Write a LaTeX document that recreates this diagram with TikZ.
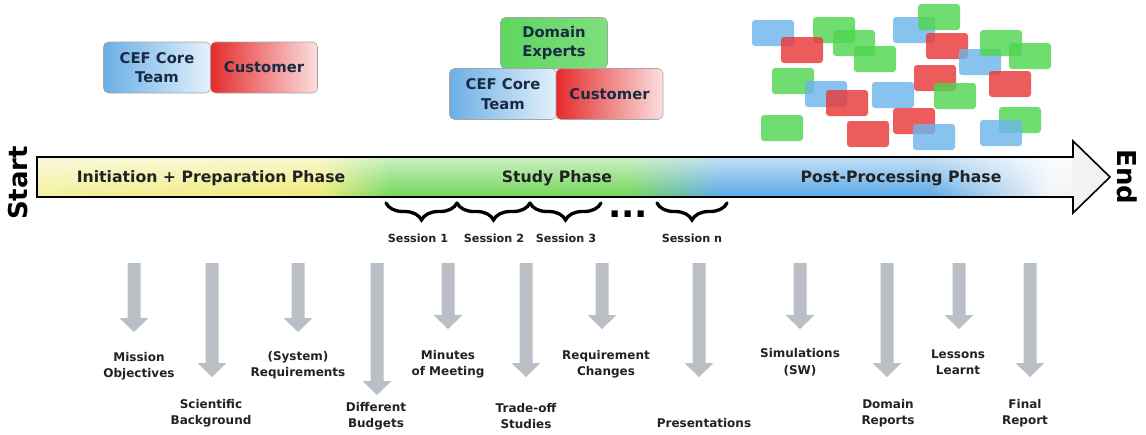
\documentclass[tikz,border=0pt]{standalone}
\usepackage{fontspec}
\setmainfont{DejaVu Sans}
\usetikzlibrary{decorations.pathreplacing,fadings}
\definecolor{cblue}{HTML}{6AAFE6}
\definecolor{cred}{HTML}{E52B2B}
\definecolor{cgreen}{HTML}{5ED65E}
\definecolor{sblue}{HTML}{6DB6EA}
\definecolor{sgreen}{HTML}{4FD64F}
\definecolor{sred}{HTML}{E83838}
\definecolor{agray}{HTML}{B9BFC5}
\definecolor{navy}{HTML}{1B2A44}
\definecolor{lblc}{HTML}{222222}
\definecolor{yelA}{HTML}{F3F0A0}
\definecolor{yelB}{HTML}{EFEC78}
\definecolor{grnA}{HTML}{72D65A}
\definecolor{bluA}{HTML}{5AA8E6}
\definecolor{endW}{HTML}{F3F6F9}
\tikzfading[name=glow, top color=transparent!35, middle color=transparent!80, bottom color=transparent!100]
\tikzset{
  teambox/.style={draw=gray!70, line width=0.6pt, rounded corners=5pt, minimum width=107pt, minimum height=51pt,
    align=center, text=navy, font=\fontsize{14.8}{19.5}\selectfont\bfseries, inner sep=0pt},
  cefbox/.style={teambox, left color=cblue, middle color=cblue!75!white, right color=cblue!18!white},
  custbox/.style={teambox, left color=cred, middle color=cred!95!white, right color=cred!15!white},
  dombox/.style={teambox, left color=cgreen, right color=cgreen!80!white},
  scat/.style={rounded corners=3pt, fill opacity=0.82},
  phase/.style={font=\fontsize{15.7}{18}\selectfont\bfseries, text=lblc},
  endlbl/.style={font=\fontsize{26}{30}\selectfont\bfseries, text=black},
  sess/.style={font=\fontsize{11.2}{12}\selectfont\bfseries, text=lblc},
  lbl/.style={font=\fontsize{12}{16.5}\selectfont\bfseries, text=lblc, align=center},
  bracestyle/.style={decorate, decoration={brace, amplitude=17pt}, line width=3.3pt, line cap=round},
}
\newcommand\garrow[3]{%
  \fill[agray] ({#1-6.5},#2) -- ({#1+6.5},#2) -- ({#1+6.5},{#3-14}) -- ({#1+14.5},{#3-14}) -- (#1,#3)
    -- ({#1-14.5},{#3-14}) -- ({#1-6.5},{#3-14}) -- cycle;}
\begin{document}
\begin{tikzpicture}[x=1pt,y=-1pt]
\useasboundingbox (0,0) rectangle (1146,434);

% ---- team groups
\node[cefbox] (cef1) at (157,67.5) {CEF Core\\Team};
\node[custbox] (cust1) at (264,67.5) {Customer};
\node[dombox] (dom) at (554,43) {Domain\\Experts};
\node[cefbox] (cef2) at (503,94) {CEF Core\\Team};
\node[custbox] (cust2) at (609.5,94) {Customer};

% ---- scattered people
\foreach \x/\y/\c in {752/20/sblue, 813/17/sgreen, 781/37/sred, 833/30/sgreen, 854/46/sgreen,
  893/17/sblue, 918/4/sgreen, 926/33/sred, 959/49/sblue, 980/30/sgreen, 1009/43/sgreen,
  989/71/sred, 914/65/sred, 772/68/sgreen, 805/81/sblue, 826/90/sred, 872/82/sblue,
  934/83/sgreen, 893/108/sred, 913/124/sblue, 847/121/sred, 761/115/sgreen, 999/107/sgreen,
  980/120/sblue}
  \fill[scat, fill=\c] (\x,\y) rectangle ({\x+42},{\y+26});

% ---- main arrow
\begin{scope}
\clip (37,157) -- (1073,157) -- (1073,141) -- (1110,177) -- (1073,213) -- (1073,197) -- (37,197) -- cycle;
\shade[left color=yelA, right color=yelB] (30,130) rectangle (320,220);
\shade[left color=yelB, right color=grnA] (319.5,130) rectangle (390,220);
\fill[grnA] (389.5,130) rectangle (630,220);
\shade[left color=grnA, right color=bluA] (629.5,130) rectangle (720,220);
\fill[bluA] (719.5,130) rectangle (930,220);
\shade[left color=bluA, right color=endW] (929.5,130) rectangle (1050,220);
\shade[left color=endW, right color=gray!12] (1049.5,130) rectangle (1115,220);
\fill[white, path fading=glow] (30,157) rectangle (1073,197);
\end{scope}
\draw[line width=1.6pt, line join=miter] (37,157) -- (1073,157) -- (1073,141) -- (1110,177) -- (1073,213) -- (1073,197) -- (37,197) -- cycle;

\node[phase] (ph1) at (211,178) {Initiation + Preparation Phase};
\node[phase] (ph2) at (557,178) {Study Phase};
\node[phase] (ph3) at (901,178) {Post-Processing Phase};
\node[endlbl, rotate=90] (start) at (18,183) {Start};
\node[endlbl, rotate=-90] (end) at (1127,177) {End};

% ---- sessions
\coordinate (b0) at (386,203);
\coordinate (b1) at (457,203);
\coordinate (b2) at (530,203);
\coordinate (b3) at (601,203);
\coordinate (bn0) at (657,203);
\coordinate (bn1) at (727,203);
\draw[bracestyle] (b1) -- (b0);
\draw[bracestyle] (b2) -- (b1);
\draw[bracestyle] (b3) -- (b2);
\draw[bracestyle] (bn1) -- (bn0);
\node[font=\fontsize{35}{35}\selectfont\bfseries, anchor=base, inner sep=0pt] (dots) at (628,217.5) {...};
\node[sess] (s1) at (418,238) {Session 1};
\node[sess] (s2) at (494,238) {Session 2};
\node[sess] (s3) at (566,238) {Session 3};
\node[sess] (sn) at (692,238) {Session n};

% ---- outputs
\garrow{134}{263}{332}
\garrow{212}{263}{377}
\garrow{298}{263}{332}
\garrow{377}{263}{395}
\garrow{448}{263}{329}
\garrow{526}{263}{377}
\garrow{602}{263}{329}
\garrow{699}{263}{377}
\garrow{800}{263}{329}
\garrow{887}{263}{377}
\garrow{959}{263}{329}
\garrow{1030}{263}{377}

\node[lbl] (o1) at (139,366) {Mission\\Objectives};
\node[lbl] (o2) at (211,413) {Scientific\\Background};
\node[lbl] (o3) at (298,365) {(System)\\Requirements};
\node[lbl] (o4) at (376,416) {Different\\Budgets};
\node[lbl] (o5) at (448,364) {Minutes\\of Meeting};
\node[lbl] (o6) at (526,416) {Trade-off\\Studies};
\node[lbl] (o7) at (606,364) {Requirement\\Changes};
\node[lbl] (o8) at (704,423) {Presentations};
\node[lbl] (o9) at (800,362) {Simulations\\(SW)};
\node[lbl] (o10) at (888,413) {Domain\\Reports};
\node[lbl] (o11) at (958,362) {Lessons\\Learnt};
\node[lbl] (o12) at (1025,413) {Final\\Report};
\end{tikzpicture}
\end{document}
